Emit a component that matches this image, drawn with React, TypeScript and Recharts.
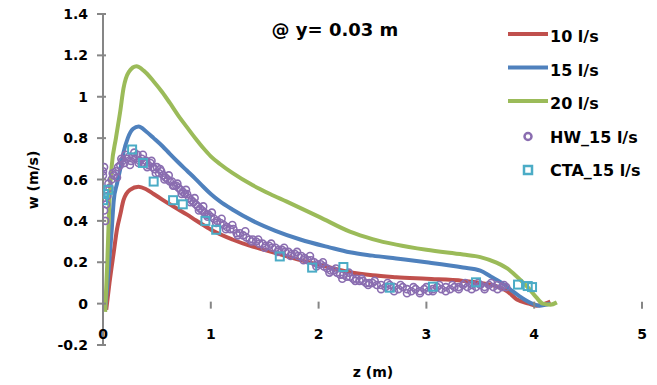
import React from 'react';
import { ComposedChart, Line, Scatter, XAxis, YAxis } from 'recharts';

const X_TICKS = [0, 1, 2, 3, 4, 5];
const Y_TICKS = [-0.2, 0, 0.2, 0.4, 0.6, 0.8, 1, 1.2, 1.4];
const Y_MIN = -0.2;
const Y_MAX = 1.4;

const TITLE = '@ y= 0.03 m';
const X_TITLE = 'z (m)';
const Y_TITLE = 'w (m/s)';
const SERIES_NAMES = ['10 l/s', '15 l/s', '20 l/s', 'HW_15 l/s', 'CTA_15 l/s'];

const z10 = [0.03, 0.06, 0.1, 0.13, 0.16, 0.19, 0.25, 0.33, 0.4, 0.47, 0.55, 0.62, 0.7, 0.78, 0.86, 0.93, 1.02, 1.2, 1.36, 1.52, 1.7, 1.83, 2.01, 2.29, 2.5, 2.72, 3.0, 3.34, 3.5, 3.65, 3.75, 3.84, 3.95, 4.02, 4.1, 4.15];
const w10 = [-0.03, 0.1, 0.25, 0.36, 0.43, 0.5, 0.55, 0.565, 0.553, 0.53, 0.503, 0.48, 0.455, 0.43, 0.403, 0.38, 0.352, 0.31, 0.28, 0.257, 0.23, 0.21, 0.188, 0.152, 0.137, 0.128, 0.12, 0.11, 0.1, 0.084, 0.06, 0.02, 0.0, -0.01, 0.0, 0.01];

const z15 = [0.02, 0.05, 0.08, 0.1, 0.13, 0.16, 0.19, 0.23, 0.28, 0.33, 0.4, 0.47, 0.55, 0.62, 0.7, 0.78, 0.86, 0.93, 1.0, 1.085, 1.2, 1.39, 1.6, 1.83, 2.1, 2.29, 2.5, 2.72, 3.0, 3.34, 3.5, 3.6, 3.7, 3.78, 3.88, 3.96, 4.05, 4.15];
const w15 = [-0.03, 0.15, 0.35, 0.5, 0.58, 0.65, 0.73, 0.8, 0.845, 0.856, 0.832, 0.8, 0.762, 0.724, 0.682, 0.642, 0.602, 0.565, 0.53, 0.494, 0.455, 0.4, 0.352, 0.31, 0.272, 0.248, 0.232, 0.218, 0.2, 0.175, 0.16, 0.13, 0.1, 0.068, 0.03, 0.005, -0.01, 0.0];

const z20 = [0.02, 0.04, 0.06, 0.08, 0.12, 0.16, 0.19, 0.24, 0.31, 0.38, 0.47, 0.55, 0.62, 0.7, 0.78, 0.86, 0.93, 1.0, 1.085, 1.2, 1.39, 1.55, 1.7, 2.01, 2.29, 2.5, 2.72, 3.0, 3.34, 3.5, 3.65, 3.75, 3.84, 3.96, 4.02, 4.08, 4.15, 4.21];
const w20 = [-0.04, 0.2, 0.5, 0.66, 0.8, 0.93, 1.04, 1.12, 1.147, 1.125, 1.074, 1.022, 0.97, 0.908, 0.852, 0.797, 0.752, 0.712, 0.675, 0.632, 0.572, 0.53, 0.494, 0.418, 0.348, 0.312, 0.285, 0.26, 0.237, 0.225, 0.198, 0.17, 0.13, 0.068, 0.03, 0.0, -0.005, 0.006];

const zHW = [0.0, 0.0, 0.01, 0.01, 0.02, 0.03, 0.04, 0.06, 0.08, 0.1, 0.12, 0.14, 0.16, 0.18, 0.2, 0.22, 0.24, 0.26, 0.28, 0.3, 0.32, 0.34, 0.36, 0.38, 0.4, 0.42, 0.44, 0.46, 0.48, 0.5, 0.52, 0.54, 0.56, 0.58, 0.6, 0.62, 0.64, 0.66, 0.68, 0.7, 0.72, 0.74, 0.76, 0.78, 0.8, 0.82, 0.84, 0.86, 0.88, 0.9, 0.92, 0.94, 0.96, 0.98, 1.0, 1.03, 1.06, 1.09, 1.12, 1.15, 1.18, 1.21, 1.24, 1.27, 1.3, 1.33, 1.36, 1.39, 1.42, 1.45, 1.48, 1.51, 1.54, 1.57, 1.6, 1.63, 1.66, 1.69, 1.72, 1.75, 1.78, 1.81, 1.84, 1.87, 1.9, 1.93, 1.96, 1.99, 2.02, 2.05, 2.08, 2.11, 2.14, 2.17, 2.2, 2.23, 2.26, 2.29, 2.32, 2.35, 2.38, 2.41, 2.44, 2.47, 2.5, 2.54, 2.58, 2.62, 2.66, 2.7, 2.74, 2.78, 2.82, 2.86, 2.9, 2.94, 2.98, 3.02, 3.06, 3.1, 3.14, 3.18, 3.22, 3.26, 3.3, 3.34, 3.38, 3.42, 3.46, 3.5, 3.54, 3.58, 3.62, 3.66, 3.7, 3.74,
  0.05, 0.09, 0.13, 0.17, 0.21, 0.25, 0.29, 0.33, 0.37, 0.41, 0.45, 0.49, 0.53, 0.57, 0.61, 0.65, 0.69, 0.73, 0.77, 0.81, 0.85, 0.89, 0.93, 0.97, 1.01, 1.05, 1.1, 1.14, 1.2, 1.25, 1.32, 1.38, 1.44, 1.5, 1.56, 1.62, 1.68, 1.74, 1.8, 1.86, 1.92, 1.98, 2.04, 2.1, 2.16, 2.22, 2.28, 2.34, 2.4, 2.46, 2.52, 2.58, 2.64, 2.7, 2.76, 2.82, 2.88, 2.94, 3.0, 3.06, 3.12, 3.18, 3.24, 3.3, 3.36, 3.42, 3.48, 3.54, 3.6, 3.66, 3.72];
const wHW = [0.64, 0.62, 0.66, 0.45, 0.4, 0.48, 0.52, 0.56, 0.6, 0.62, 0.64, 0.66, 0.67, 0.69, 0.68, 0.7, 0.71, 0.69, 0.71, 0.7, 0.72, 0.69, 0.7, 0.68, 0.69, 0.67, 0.68, 0.66, 0.65, 0.66, 0.63, 0.64, 0.62, 0.61, 0.6, 0.59, 0.59, 0.57, 0.57, 0.56, 0.55, 0.54, 0.53, 0.53, 0.51, 0.5, 0.49, 0.48, 0.47, 0.46, 0.45, 0.44, 0.43, 0.43, 0.42, 0.41, 0.4, 0.39, 0.38, 0.37, 0.36, 0.36, 0.34, 0.34, 0.33, 0.32, 0.31, 0.31, 0.3, 0.29, 0.29, 0.28, 0.28, 0.27, 0.27, 0.26, 0.26, 0.25, 0.25, 0.24, 0.24, 0.23, 0.23, 0.22, 0.21, 0.21, 0.2, 0.19, 0.19, 0.18, 0.17, 0.16, 0.16, 0.15, 0.14, 0.14, 0.13, 0.13, 0.12, 0.12, 0.11, 0.11, 0.1, 0.1, 0.1, 0.09, 0.09, 0.08, 0.09, 0.08, 0.07, 0.08, 0.07, 0.06, 0.07, 0.06, 0.07, 0.06, 0.07, 0.08, 0.07, 0.08, 0.07, 0.08, 0.08, 0.09, 0.08, 0.09, 0.08, 0.09, 0.08, 0.09, 0.08, 0.09, 0.08, 0.08,
  0.58, 0.63, 0.61, 0.7, 0.72, 0.67, 0.73, 0.68, 0.72, 0.66, 0.69, 0.63, 0.65, 0.6, 0.62, 0.57, 0.58, 0.53, 0.55, 0.49, 0.51, 0.45, 0.47, 0.42, 0.44, 0.39, 0.41, 0.36, 0.38, 0.33, 0.35, 0.3, 0.31, 0.27, 0.29, 0.25, 0.27, 0.23, 0.25, 0.21, 0.23, 0.18, 0.2, 0.15, 0.17, 0.12, 0.15, 0.11, 0.12, 0.09, 0.11, 0.07, 0.1, 0.06, 0.09, 0.05, 0.08, 0.05, 0.08, 0.06, 0.09, 0.06, 0.09, 0.07, 0.1, 0.07, 0.1, 0.07, 0.1, 0.07, 0.09];

const zCTA = [0.0, 0.01, 0.05, 0.27, 0.37, 0.47, 0.65, 0.74, 0.95, 1.05, 1.64, 1.94, 2.23, 2.66, 3.06, 3.46, 3.85, 3.94, 3.98];
const wCTA = [0.5, 0.53, 0.55, 0.745, 0.68, 0.59, 0.5, 0.48, 0.4, 0.357, 0.228, 0.174, 0.177, 0.077, 0.082, 0.103, 0.092, 0.085, 0.08];

const COLORS = ['#C0504D', '#4F81BD', '#9BBB59', '#8A6DB0', '#4BACC6'];

const toRows = (zs: number[], ws: number[]) => zs.map((z, i) => ({ z, w: ws[i] }));
const d10 = toRows(z10, w10);
const d15 = toRows(z15, w15);
const d20 = toRows(z20, w20);
const dHW = toRows(zHW, wHW);
const dCTA = toRows(zCTA, wCTA);

const W = 657;
const H = 385;
const MARGIN = { top: 14, right: 15, bottom: 10, left: 43 };
const Y_AXIS_W = 60;
const X_AXIS_H = 30;
const PLOT_H = H - MARGIN.top - MARGIN.bottom - X_AXIS_H;
const ZERO_OFFSET = (PLOT_H * (0 - Y_MIN)) / (Y_MAX - Y_MIN);

const FONT = '"DejaVu Sans", sans-serif';
const AXIS_GRAY = '#868686';

const YTick = (props: any) => {
  const { x, y, payload } = props;
  return (
    <g>
      <line x1={x - 6} x2={x + 3} y1={y} y2={y} stroke={AXIS_GRAY} strokeWidth={2} />
      <text x={x - 15} y={y} dy={5} textAnchor="end" fontFamily={FONT} fontWeight="bold" fontSize={14} fill="#000">
        {String(payload.value)}
      </text>
    </g>
  );
};

const XTick = (props: any) => {
  const { x, y, payload } = props;
  const ty = y - ZERO_OFFSET;
  return (
    <g>
      <line x1={x} x2={x} y1={ty - 2} y2={ty + 5} stroke={AXIS_GRAY} strokeWidth={2} />
      <text x={x} y={y - 6} textAnchor="middle" fontFamily={FONT} fontWeight="bold" fontSize={14} fill="#000">
        {String(payload.value)}
      </text>
    </g>
  );
};

const PurpleMark = (props: any) => {
  const { cx, cy } = props;
  return <circle cx={cx} cy={cy} r={3.5} fill="none" stroke={COLORS[3]} strokeWidth={1.6} />;
};

const CyanMark = (props: any) => {
  const { cx, cy } = props;
  return <rect x={cx - 4} y={cy - 4} width={8} height={8} fill="none" stroke={COLORS[4]} strokeWidth={2} />;
};

const LegendBox = () => {
  const rowH = 33.5;
  return (
    <svg width={152} height={170} style={{ position: 'absolute', left: 505, top: 22, overflow: 'visible' }}>
      {SERIES_NAMES.map((name, i) => {
        const cy = 14 + i * rowH;
        let mark: React.ReactNode;
        if (i < 3) {
          mark = <line x1={3} x2={43} y1={cy - 2} y2={cy - 2} stroke={COLORS[i]} strokeWidth={4} />;
        } else if (i === 3) {
          mark = <circle cx={23} cy={cy} r={3.5} fill="none" stroke={COLORS[3]} strokeWidth={2.5} />;
        } else {
          mark = <rect x={19} y={cy - 4} width={8} height={8} fill="none" stroke={COLORS[4]} strokeWidth={2.5} />;
        }
        return (
          <g key={name}>
            {mark}
            <text x={45} y={cy + 6} fontFamily={FONT} fontWeight="bold" fontSize={16} fill="#000">
              {name}
            </text>
          </g>
        );
      })}
    </svg>
  );
};

export default function App() {
  return (
    <div style={{ position: 'absolute', left: 0, top: 0, width: W, height: H, background: '#fff' }}>
      <ComposedChart width={W} height={H} margin={MARGIN}>
        <XAxis
          type="number"
          dataKey="z"
          domain={[0, 5]}
          ticks={X_TICKS}
          allowDataOverflow
          axisLine={false}
          tickLine={false}
          tickSize={0}
          tickMargin={0}
          height={X_AXIS_H}
          tick={<XTick />}
          interval={0}
        />
        <YAxis
          type="number"
          dataKey="w"
          domain={[Y_MIN, Y_MAX]}
          ticks={Y_TICKS}
          allowDataOverflow
          axisLine={{ stroke: AXIS_GRAY, strokeWidth: 2 }}
          tickLine={false}
          tickSize={0}
          tickMargin={0}
          width={Y_AXIS_W}
          tick={<YTick />}
          interval={0}
        />
        <Line data={d10} dataKey="w" name={SERIES_NAMES[0]} type="monotone" stroke={COLORS[0]} strokeWidth={4} dot={false} isAnimationActive={false} />
        <Line data={d15} dataKey="w" name={SERIES_NAMES[1]} type="monotone" stroke={COLORS[1]} strokeWidth={4} dot={false} isAnimationActive={false} />
        <Line data={d20} dataKey="w" name={SERIES_NAMES[2]} type="monotone" stroke={COLORS[2]} strokeWidth={4} dot={false} isAnimationActive={false} />
        <Scatter data={dHW} dataKey="w" name={SERIES_NAMES[3]} shape={<PurpleMark />} isAnimationActive={false} />
        <Scatter data={dCTA} dataKey="w" name={SERIES_NAMES[4]} shape={<CyanMark />} isAnimationActive={false} />
      </ComposedChart>
      <LegendBox />
      <div style={{ position: 'absolute', left: 230, top: 19, width: 210, textAlign: 'center', fontFamily: FONT, fontWeight: 'bold', fontSize: 18, lineHeight: '22px', color: '#000' }}>
        {TITLE}
      </div>
      <div style={{ position: 'absolute', left: 323, top: 363, width: 100, textAlign: 'center', fontFamily: FONT, fontWeight: 'bold', fontSize: 14, lineHeight: '18px', color: '#000' }}>
        {X_TITLE}
      </div>
      <div style={{ position: 'absolute', left: -17, top: 171, width: 100, textAlign: 'center', fontFamily: FONT, fontWeight: 'bold', fontSize: 14, lineHeight: '18px', color: '#000', transform: 'rotate(-90deg)' }}>
        {Y_TITLE}
      </div>
    </div>
  );
}
